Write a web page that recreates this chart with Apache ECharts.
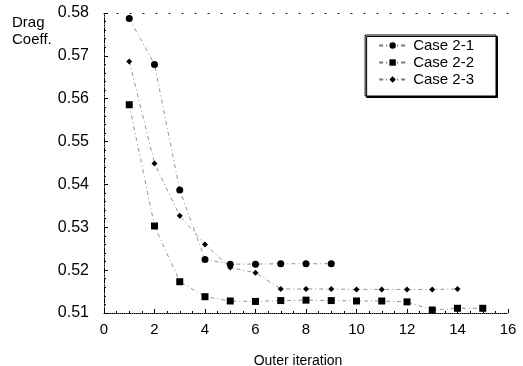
<!DOCTYPE html>
<html>
<head>
<meta charset="utf-8">
<script src="https://cdn.jsdelivr.net/npm/echarts@6/dist/echarts.min.js"></script>
<style>
  html, body { margin: 0; padding: 0; background: #fff; }
  #chart { width: 523px; height: 366px; }
</style>
</head>
<body>
<div id="chart"></div>
<script>
// values
var case21X = [1, 2, 3, 4, 5, 6, 7, 8, 9];
var case21Y = [0.5787, 0.5680, 0.5387, 0.5225, 0.5214, 0.5214, 0.5215, 0.5215, 0.5215];
var case22X = [1, 2, 3, 4, 5, 6, 7, 8, 9, 10, 11, 12, 13, 14, 15];
var case22Y = [0.5586, 0.5303, 0.5173, 0.5138, 0.5128, 0.5127, 0.5129, 0.5130, 0.5129, 0.5128, 0.5128, 0.5126, 0.5107, 0.5111, 0.5111];
var case23X = [1, 2, 3, 4, 5, 6, 7, 8, 9, 10, 11, 12, 13, 14];
var case23Y = [0.5687, 0.5449, 0.5327, 0.5260, 0.5206, 0.5194, 0.5156, 0.5156, 0.5156, 0.5155, 0.5155, 0.5155, 0.5155, 0.5156];
var seriesNames = ["Case 2-1", "Case 2-2", "Case 2-3"];

function pairs(xs, ys) {
  return xs.map(function (x, i) { return [x, ys[i]]; });
}

var chart = echarts.init(document.getElementById("chart"));
var font = "Liberation Sans, Arial, sans-serif";
var dashDot = [4, 3, 1, 3];

function makeSeries(name, data, symbol, size) {
  return {
    name: name,
    type: "line",
    data: data,
    symbol: symbol,
    symbolSize: size,
    itemStyle: { color: "#000" },
    lineStyle: { color: "#777", width: 0.8, type: dashDot },
    z: 3,
  };
}

chart.setOption({
  backgroundColor: "#fff",
  animation: false,
  title: {
    text: "Drag\nCoeff.",
    left: 12,
    top: 14,
    padding: 0,
    textStyle: { fontFamily: font, fontSize: 15, fontWeight: "normal", color: "#000", lineHeight: 17 },
  },
  legend: {
    orient: "vertical",
    right: 27,
    top: 35,
    padding: [3, 22, 9, 13],
    itemGap: 2,
    itemWidth: 27,
    itemHeight: 8,
    backgroundColor: "#fff",
    borderColor: "#000",
    borderWidth: 1,
    shadowColor: "#000",
    shadowOffsetX: 1.5,
    shadowOffsetY: 1.5,
    textStyle: { fontFamily: font, fontSize: 15, color: "#000", padding: [0, 0, 0, 2] },
    data: seriesNames,
  },
  grid: { left: 104, right: 15, top: 13, bottom: 53, containLabel: false, outerBoundsMode: "none" },
  xAxis: [
    {
      type: "value",
      min: 0,
      max: 16,
      interval: 2,
      name: "Outer iteration",
      nameLocation: "middle",
      nameGap: 41,
      nameTextStyle: { fontFamily: font, fontSize: 14, color: "#000", padding: [0, 16, 0, 0] },
      axisLine: { lineStyle: { color: "#000", width: 1, type: "dotted" } },
      axisTick: { inside: true, length: 4, lineStyle: { color: "#000" } },
      minorTick: { show: true, splitNumber: 4, length: 2, lineStyle: { color: "#000" } },
      axisLabel: { fontFamily: font, fontSize: 15, color: "#000", margin: 9 },
      splitLine: { show: false },
    },
    {
      type: "value",
      position: "top",
      min: 0,
      max: 16,
      interval: 2,
      axisLine: { lineStyle: { color: "#000", width: 1, type: [1, 12] } },
      axisTick: { show: false },
      axisLabel: { show: false },
      splitLine: { show: false },
    },
  ],
  yAxis: [
    {
      type: "value",
      min: 0.51,
      max: 0.58,
      interval: 0.01,
      axisLine: { lineStyle: { color: "#000", width: 1, type: [5, 2, 1, 2] } },
      axisTick: { inside: true, length: 4, lineStyle: { color: "#000" } },
      minorTick: { show: true, splitNumber: 5, length: 2, lineStyle: { color: "#000" } },
      axisLabel: {
        fontFamily: font,
        fontSize: 16,
        color: "#000",
        margin: 15,
        formatter: function (v) { return v.toFixed(2); },
      },
      splitLine: { show: false },
    },
    {
      type: "value",
      position: "right",
      min: 0.51,
      max: 0.58,
      interval: 0.01,
      axisLine: { show: true, lineStyle: { color: "#000", width: 1, type: [5, 2, 1, 2] } },
      axisTick: { show: false },
      axisLabel: { show: false },
      splitLine: { show: false },
    },
  ],
  series: [
    makeSeries(seriesNames[0], pairs(case21X, case21Y), "circle", 7),
    makeSeries(seriesNames[1], pairs(case22X, case22Y), "rect", 7),
    makeSeries(seriesNames[2], pairs(case23X, case23Y), "diamond", 6),
  ],
});
</script>
</body>
</html>
